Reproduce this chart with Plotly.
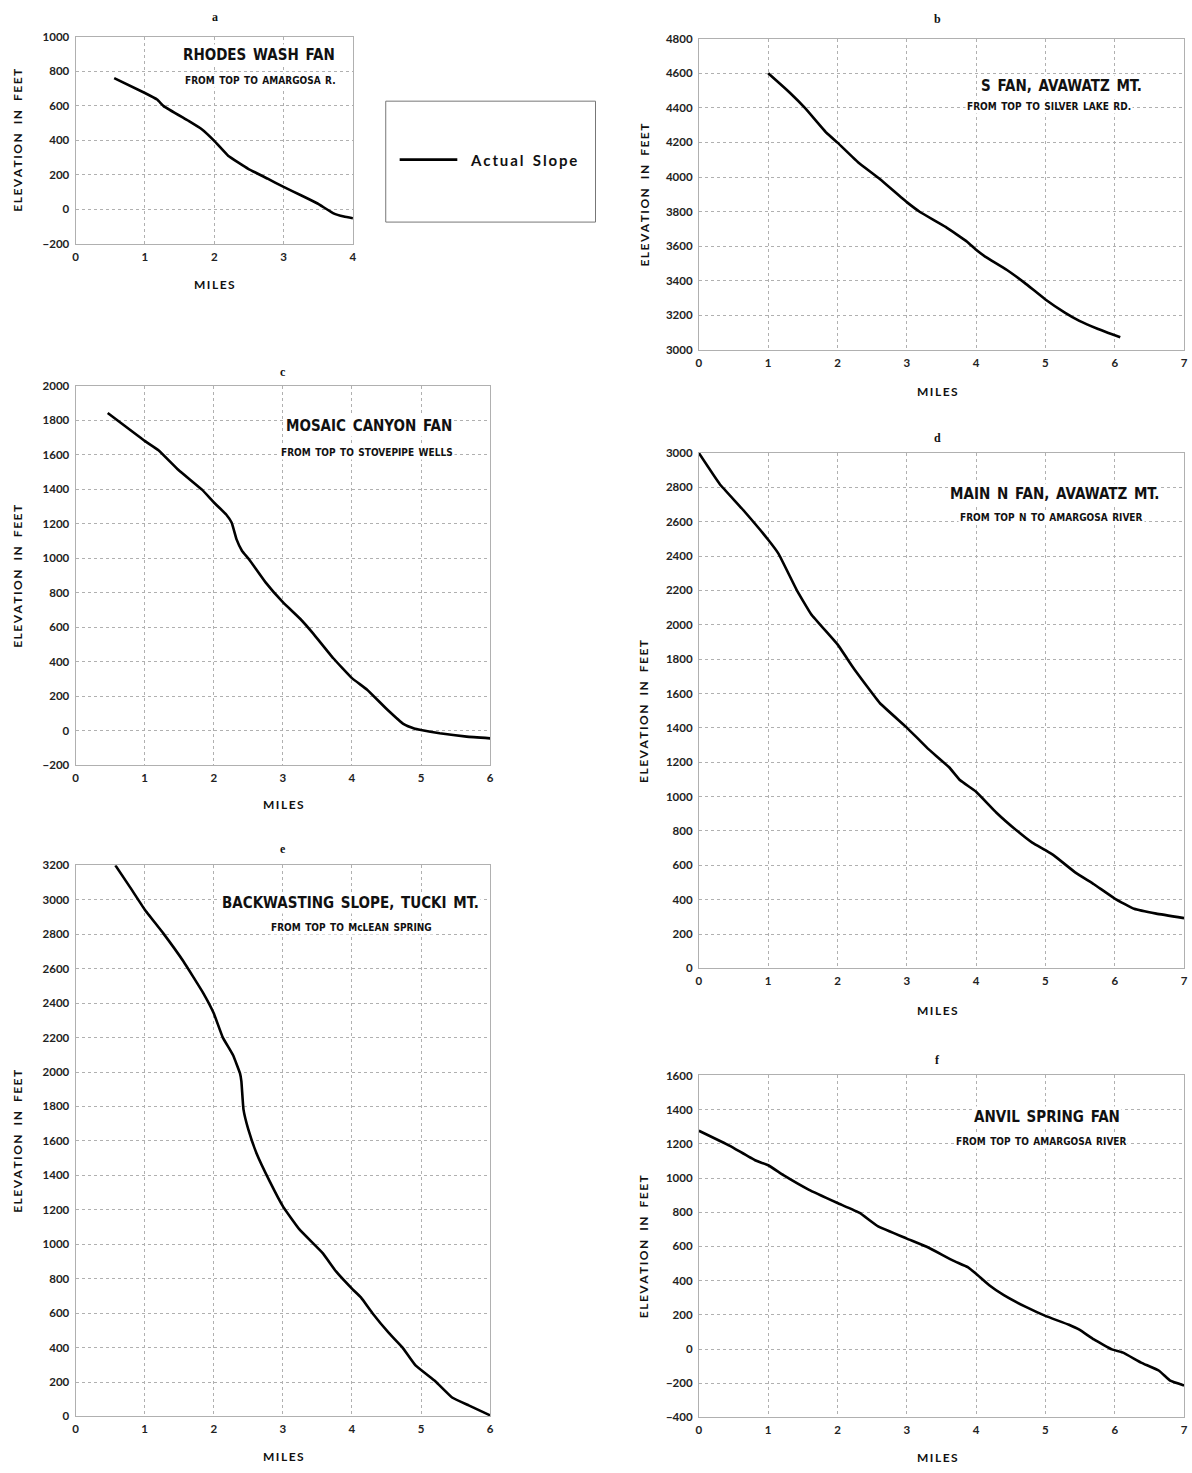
import plotly.graph_objects as go

W, H = 1192, 1473

# ---------------- data ----------------
a_miles = [0.557, 1.0, 1.176, 1.27, 1.63, 1.82, 2.0, 2.2, 2.49, 2.77, 3.0, 3.25, 3.49, 3.72, 3.87, 4.0]
a_elev = [760, 674, 636, 598, 512, 464, 397, 311, 235, 178, 130, 82, 34, -23, -42, -52]

b_miles = [1.0, 1.32, 1.53, 1.84, 2.0, 2.30, 2.61, 3.0, 3.19, 3.56, 3.87, 4.0, 4.13, 4.44, 4.70, 5.0, 5.28, 5.49, 5.76, 6.08]
b_elev = [4600, 4485, 4400, 4256, 4199, 4084, 3989, 3855, 3798, 3712, 3626, 3579, 3540, 3464, 3388, 3292, 3216, 3168, 3121, 3073]

c_miles = [0.465, 1.0, 1.2, 1.49, 1.83, 2.0, 2.18, 2.26, 2.33, 2.41, 2.51, 2.75, 3.0, 3.25, 3.44, 3.73, 4.0, 4.22, 4.51, 4.75, 4.90, 5.0, 5.27, 5.66, 6.0]
c_elev = [1841, 1680, 1626, 1511, 1397, 1324, 1253, 1205, 1109, 1042, 994, 860, 745, 649, 563, 420, 305, 238, 123, 38, 13, 4, -15, -34, -44]

d_miles = [0.0, 0.30, 0.62, 1.0, 1.15, 1.41, 1.62, 2.0, 2.24, 2.61, 3.0, 3.30, 3.61, 3.77, 4.0, 4.29, 4.60, 4.81, 5.0, 5.13, 5.44, 5.70, 6.0, 6.28, 6.60, 7.0]
d_elev = [3000, 2820, 2677, 2495, 2413, 2204, 2062, 1886, 1743, 1545, 1402, 1281, 1171, 1095, 1029, 908, 798, 732, 688, 655, 556, 490, 407, 347, 319, 293]

e_miles = [0.576, 0.79, 1.0, 1.27, 1.56, 1.85, 2.0, 2.13, 2.28, 2.38, 2.40, 2.43, 2.50, 2.62, 2.81, 3.01, 3.24, 3.58, 3.77, 4.01, 4.13, 4.30, 4.54, 4.73, 4.92, 5.21, 5.45, 5.69, 6.0]
e_elev = [3200, 3072, 2944, 2805, 2643, 2457, 2341, 2201, 2097, 1992, 1946, 1783, 1667, 1527, 1365, 1214, 1086, 947, 842, 738, 691, 598, 482, 401, 296, 203, 110, 64, 6]

f_miles = [0.0, 0.44, 0.81, 1.0, 1.22, 1.59, 2.0, 2.32, 2.58, 3.0, 3.31, 3.67, 3.88, 4.0, 4.19, 4.40, 4.71, 5.0, 5.34, 5.49, 5.70, 5.96, 6.12, 6.38, 6.64, 6.80, 7.0]
f_elev = [1277, 1190, 1104, 1075, 1017, 931, 854, 796, 719, 646, 594, 517, 479, 440, 373, 315, 248, 194, 142, 113, 56, -2, -21, -79, -127, -185, -213]

panel_letters = ["a", "b", "c", "d", "e", "f"]
titles = ["RHODES WASH FAN", "S FAN, AVAWATZ MT.", "MOSAIC CANYON FAN",
          "MAIN N FAN, AVAWATZ MT.", "BACKWASTING SLOPE, TUCKI MT.", "ANVIL SPRING FAN"]
subtitles = ["FROM TOP TO AMARGOSA R.", "FROM TOP TO SILVER LAKE RD.", "FROM TOP TO STOVEPIPE WELLS",
             "FROM TOP N TO AMARGOSA RIVER", "FROM TOP TO McLEAN SPRING", "FROM TOP TO AMARGOSA RIVER"]
x_ranges = [[0, 4], [0, 7], [0, 6], [0, 7], [0, 6], [0, 7]]
y_ranges = [[-200, 1000], [3000, 4800], [-200, 2000], [0, 3000], [0, 3200], [-400, 1600]]
series = [(a_miles, a_elev), (b_miles, b_elev), (c_miles, c_elev),
          (d_miles, d_elev), (e_miles, e_elev), (f_miles, f_elev)]
legend_label = "Actual Slope"

# ---------------- layout (pixel boxes) ----------------
boxes = [  # left, right, top, bottom (pixels)
    (73, 352, 30, 239),
    (700, 1188, 32, 346),
    (73, 490, 382, 765),
    (700, 1188, 450, 970),
    (73, 490, 866, 1422),
    (700, 1188, 1078, 1423),
]
letter_pos = [(213, 10), (940, 12), (282, 368), (940, 435), (282, 850), (940, 1062)]
ylab_pos = [(15, 134), (645, 189), (15, 574), (645, 710), (15, 1144), (645, 1250)]
miles_pos = [(213, 280), (940, 388), (282, 805), (940, 1012), (282, 1462), (940, 1463)]
title_pos = [(258, 48), (1065, 80), (368, 423), (1058, 491), (350, 904), (1050, 1120)]
sub_pos = [(259, 74), (1052, 100), (366, 449), (1055, 515), (351, 929), (1044, 1145)]


def px(x):
    return x / W


def py(y):
    return 1 - y / H


fig = go.Figure()
layout = dict(
    width=W, height=H, margin=dict(l=0, r=0, t=0, b=0),
    paper_bgcolor="white", plot_bgcolor="white", showlegend=False,
)
annotations = []
grid_col = "#b0b0b0"
tickfont = dict(family="Lato", size=11.5, color="#222", weight="bold")
title_font = "DejaVu Sans Condensed, Liberation Sans Narrow, Roboto Condensed, sans-serif"


def note(x, y, text, font, **kw):
    d = dict(x=px(x), y=py(y), xref="paper", yref="paper", text=text, showarrow=False,
             xanchor="center", yanchor="middle", font=font)
    d.update(kw)
    annotations.append(d)


def spaced(s, gap="\u2009", word="\u2003"):
    return word.join(gap.join(w) for w in s.split(" "))


ylab_text = "<b>%s</b>" % spaced("ELEVATION IN FEET")
miles_text = "<b>%s</b>" % spaced("MILES")

for i, ((xs, ys), (l, r, t, b)) in enumerate(zip(series, boxes)):
    n = "" if i == 0 else str(i + 1)
    xa, ya = "xaxis" + n, "yaxis" + n
    fig.add_trace(go.Scatter(x=xs, y=ys, mode="lines", xaxis="x" + n, yaxis="y" + n,
                             line=dict(color="black", width=2.6, shape="spline", smoothing=0.3)))
    layout[xa] = dict(domain=[px(l), px(r)], range=x_ranges[i], dtick=1, tick0=0,
                      anchor="y" + n, showgrid=True, gridcolor=grid_col, griddash="dot", gridwidth=1,
                      showline=True, linecolor=grid_col, linewidth=1, mirror=True,
                      zeroline=False, ticks="", tickfont=tickfont, ticklabelstandoff=2,
                      fixedrange=True)
    layout[ya] = dict(domain=[py(b), py(t)], range=y_ranges[i], dtick=200, tick0=0,
                      anchor="x" + n, showgrid=True, gridcolor=grid_col, griddash="dot", gridwidth=1,
                      showline=True, linecolor=grid_col, linewidth=1, mirror=True,
                      zeroline=False, ticks="", tickfont=tickfont, ticklabelstandoff=3,
                      fixedrange=True)
    note(*letter_pos[i], "<b>%s</b>" % panel_letters[i],
         dict(family="Liberation Serif", size=12, color="#111"))
    note(*ylab_pos[i], ylab_text, dict(family="Lato", size=12, color="#111"), textangle=-90)
    note(*miles_pos[i], miles_text, dict(family="Lato", size=12, color="#111"))
    note(*title_pos[i], "<b>%s</b>" % titles[i].replace(" ", "\u2002"),
         dict(family=title_font, size=15, color="#111"), bgcolor="white")
    note(*sub_pos[i], "<b>%s</b>" % subtitles[i].replace(" ", "\u2002"),
         dict(family=title_font, size=10, color="#111"), bgcolor="white")

# legend box
shapes = [
    dict(type="rect", xref="paper", yref="paper", x0=px(385), x1=px(596), y0=py(217), y1=py(95),
         line=dict(color="#777", width=1)),
    dict(type="line", xref="paper", yref="paper", x0=px(399), x1=px(457), y0=py(154), y1=py(154),
         line=dict(color="black", width=2.6)),
]
note(468, 154, "<b>%s</b>" % spaced(legend_label, word="\u2002\u2009"),
     dict(family="Lato", size=15, color="#111"), xanchor="left")

layout["annotations"] = annotations
layout["shapes"] = shapes
fig.update_layout(**layout)
fig.write_html("out.html")
